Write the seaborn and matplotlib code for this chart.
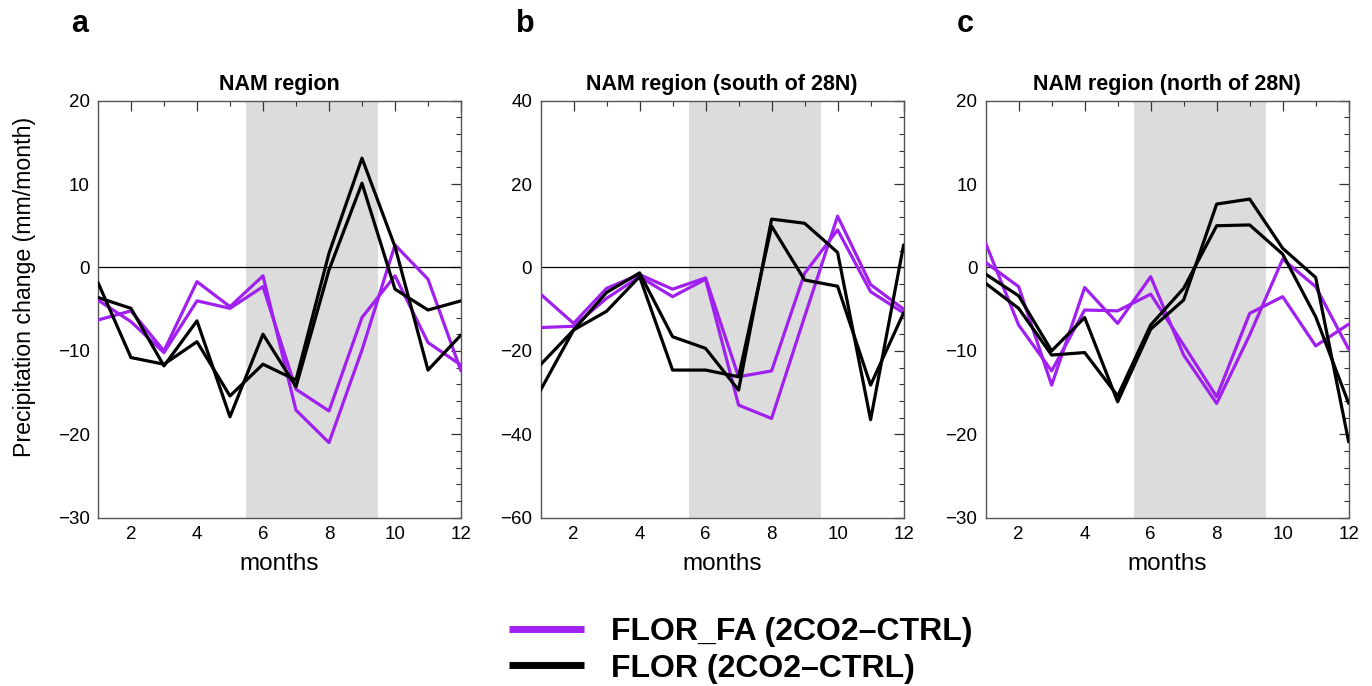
import numpy as np
import pandas as pd
import matplotlib
import matplotlib.pyplot as plt
import seaborn as sns
from matplotlib.lines import Line2D
from matplotlib.ticker import MultipleLocator

matplotlib.use("Agg")

months = list(range(1, 13))

# panel a: NAM region
a_fa1 = [-6.3, -5.2, -10.0, -1.7, -4.7, -1.0, -17.1, -21.0, -9.9, 2.7, -1.4, -12.4]
a_fa2 = [-3.9, -6.5, -10.2, -4.0, -4.9, -2.3, -14.6, -17.2, -6.0, -1.0, -9.0, -11.7]
a_fl1 = [-1.8, -10.8, -11.6, -8.9, -15.4, -11.6, -13.5, 1.7, 13.1, 2.5, -12.3, -8.1]
a_fl2 = [-3.6, -4.9, -11.8, -6.4, -17.9, -8.0, -14.3, -0.3, 10.1, -2.6, -5.1, -4.0]

# panel b: south of 28N
b_fa1 = [-6.4, -13.4, -5.0, -1.7, -5.2, -2.5, -26.2, -24.8, -1.4, 9.0, -5.8, -10.9]
b_fa2 = [-14.4, -14.1, -7.4, -2.2, -7.0, -2.8, -33.0, -36.2, -11.8, 12.3, -4.1, -10.0]
b_fl1 = [-29.4, -15.0, -6.0, -1.3, -16.6, -19.4, -29.4, 11.6, 10.6, 3.6, -36.5, 5.4]
b_fl2 = [-23.3, -15.0, -10.5, -2.2, -24.6, -24.6, -26.2, 9.9, -3.0, -4.5, -28.2, -10.9]

# panel c: north of 28N
c_fa1 = [2.9, -6.9, -12.4, -5.1, -5.2, -3.2, -9.3, -15.5, -5.5, -3.5, -9.4, -6.8]
c_fa2 = [0.6, -2.3, -14.1, -2.4, -6.7, -1.1, -10.5, -16.3, -8.1, 1.0, -2.3, -9.8]
c_fl1 = [-0.8, -3.4, -10.0, -6.0, -16.1, -7.4, -3.9, 7.6, 8.2, 2.3, -1.2, -20.9]
c_fl2 = [-1.9, -4.9, -10.5, -10.2, -15.4, -6.9, -2.5, 5.0, 5.1, 1.6, -5.9, -16.3]

panels = [
    ("a", "NAM region", (a_fa1, a_fa2, a_fl1, a_fl2), (-30, 20), 10, 2),
    ("b", "NAM region (south of 28N)", (b_fa1, b_fa2, b_fl1, b_fl2), (-60, 40), 20, 4),
    ("c", "NAM region (north of 28N)", (c_fa1, c_fa2, c_fl1, c_fl2), (-30, 20), 10, 2),
]

purple = "#A020F0"
palette = {"FLOR_FA": purple, "FLOR": "black"}

sns.set_style("white", {"text.color": "black", "axes.labelcolor": "black",
                        "xtick.color": "black", "ytick.color": "black"})
plt.rcParams["font.family"] = ["Liberation Sans", "DejaVu Sans"]

fig = plt.figure(figsize=(13.72, 6.86), dpi=100)
lefts = [0.0714, 0.394, 0.7184]
letter_x = [80, 525, 965]

for left, lx, (letter, title, series, ylim, major, minor) in zip(lefts, letter_x, panels):
    ax = fig.add_axes([left, 0.2453, 0.2646, 0.608])
    rows = []
    for name, member, vals in zip(
        ["FLOR_FA", "FLOR_FA", "FLOR", "FLOR"], [1, 2, 3, 4], series
    ):
        for m, v in zip(months, vals):
            rows.append({"month": m, "value": v, "model": name, "member": member})
    df = pd.DataFrame(rows)

    # shaded summer months
    ax.axvspan(5.5, 9.5, color="#dcdcdc", lw=0, zorder=0)
    ax.axhline(0, color="black", lw=0.9, zorder=1)
    sns.lineplot(
        data=df,
        x="month",
        y="value",
        hue="model",
        units="member",
        estimator=None,
        palette=palette,
        lw=2.3,
        legend=False,
        ax=ax,
        zorder=3,
    )
    ax.set_xlim(1, 12)
    ax.set_ylim(*ylim)
    ax.xaxis.set_major_locator(MultipleLocator(2))
    ax.xaxis.set_minor_locator(MultipleLocator(1))
    ax.yaxis.set_major_locator(MultipleLocator(major))
    ax.yaxis.set_minor_locator(MultipleLocator(minor))
    ax.tick_params(which="both", direction="in", top=True, right=True, colors="#333333",
                   labelcolor="black", labelsize=13.5)
    ax.tick_params(which="major", length=7, width=0.9, pad=6)
    ax.tick_params(which="minor", length=3.5, width=0.8)
    ax.set_yticklabels([f"{t:g}".replace("-", "\u2212") for t in ax.get_yticks()])
    for s in ax.spines.values():
        s.set_color("#555555")
        s.set_linewidth(1.0)
    ax.set_xlabel("months", fontsize=17.5, labelpad=7)
    ax.set_ylabel("")
    ax.set_title(title, fontsize=15.5, fontweight="bold", pad=8)
    fig.text(lx / 1372, 1 - 24 / 686, letter, fontsize=22, fontweight="bold",
             ha="center", va="center")

fig.text(0.018, 0.582, "Precipitation change (mm/month)", rotation=90,
         fontsize=16.7, ha="center", va="center")

handles = [
    Line2D([], [], color=purple, lw=5, solid_capstyle="butt"),
    Line2D([], [], color="black", lw=5, solid_capstyle="butt"),
]
fig.legend(
    handles,
    ["FLOR_FA (2CO2\u2013CTRL)", "FLOR (2CO2\u2013CTRL)"],
    loc="center",
    bbox_to_anchor=(0.54, 0.052),
    frameon=False,
    prop={"size": 23, "weight": "bold"},
    handlelength=2.35,
    handletextpad=0.85,
    labelspacing=0.2,
    borderpad=0,
    alignment="left",
)

fig.savefig("out.png", dpi=100)
